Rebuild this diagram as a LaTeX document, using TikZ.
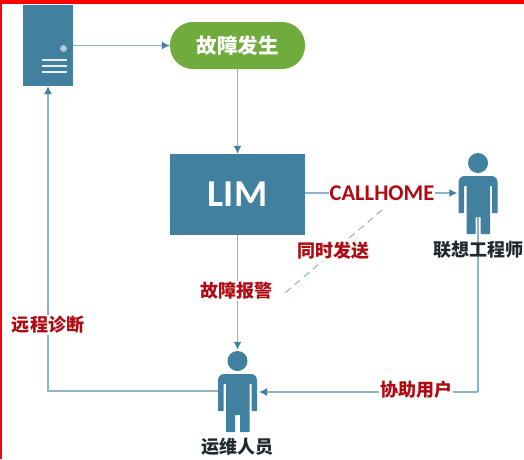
\documentclass[tikz,border=0pt]{standalone}
\usepackage{fontspec}
\setmainfont{Carlito}
\newfontfamily\cjk{Noto Sans CJK SC}
\usetikzlibrary{arrows.meta}
\definecolor{steel}{HTML}{41809F}
\definecolor{wire}{HTML}{8FB3C8}
\definecolor{leaf}{HTML}{70AB3E}
\definecolor{alert}{HTML}{B00A12}
\definecolor{ink}{HTML}{1F2A30}
\tikzset{
  x=1pt,y=-1pt,
  block/.style={fill=steel,draw=none,inner sep=0pt},
  conn/.style={draw=wire,line width=1.4pt,-{Latex[length=8pt,width=8pt,color=steel]}},
  plainconn/.style={draw=wire,line width=1.4pt},
  dashconn/.style={draw=wire,line width=1pt,dash pattern=on 7pt off 5pt},
  redlabel/.style={text=alert,font=\cjk\bfseries\fontsize{18}{20}\selectfont,inner sep=1pt},
  darklabel/.style={text=ink,font=\cjk\bfseries\fontsize{18}{20}\selectfont,inner sep=0pt},
  personslot/.style={minimum width=39pt,minimum height=59pt,inner sep=0pt,draw=none},
  pics/person/.style={code={
    \fill[steel] (0,-13) circle (10);
    \fill[steel] (-19.5,37) -- (-19.5,6) arc[start angle=180,end angle=90,radius=6pt] -- (13.5,0) arc[start angle=90,end angle=0,radius=6pt] -- (19.5,37) -- (14,37) -- (14,10) -- (12,10) -- (12,58) -- (2.5,58) -- (2.5,41) -- (-2.5,41) -- (-2.5,58) -- (-11.5,58) -- (-11.5,10) -- (-14,10) -- (-14,37) -- cycle;
  }}
}
\begin{document}
\begin{tikzpicture}
\useasboundingbox (0,0) rectangle (524,459);
\fill[white] (0,0) rectangle (524,459);
\fill[red] (0,0) rectangle (524,4);
\fill[red] (0,0) rectangle (2,459);

\node[block,minimum width=50pt,minimum height=81pt] (server) at (48,45.5) {};
\fill[white!60!steel] (63.5,48.5) circle (3.4);
\foreach \yy in {59,65,71}{\fill[white!88!steel] (42,\yy) rectangle (67,\yy+1.8);}
\node[fill=leaf,rounded corners=23pt,minimum width=135pt,minimum height=47pt,inner sep=0pt,text=white,font=\cjk\bfseries\fontsize{20.5}{22}\selectfont] (fault) at (237.5,45.5) {故障发生};
\node[block,minimum width=135pt,minimum height=81pt,text=white,font=\bfseries\fontsize{38}{40}\selectfont] (lim) at (237.5,194.5) {LIM};
\node[personslot] (eng) at (478,205.5) {};
\path (478,176) pic {person};
\node[personslot] (ops) at (237.5,403.5) {};
\path (237.5,374) pic {person};

\coordinate (corner1) at (478,392);
\coordinate (corner2) at (48,391);
\coordinate (opsin) at (259,392);
\coordinate (opsout) at (218,391);
\coordinate (dashA) at (382,210);
\coordinate (dashB) at (285,293);
\coordinate (engbottom) at (478,217);

\draw[conn] (server.east |- fault.west) -- (fault.west);
\draw[conn] (fault.south) -- (lim.north);
\draw[conn] (lim.south) -- ([yshift=24pt]ops.north);
\draw[conn] (lim.east |- 0,193) -- ([xshift=-1pt]eng.west |- 0,193);
\draw[plainconn] (engbottom) -- (corner1);
\draw[conn] (corner1) -- (opsin);
\draw[conn] (opsout) -- (corner2) -- (server.south);
\draw[dashconn] (dashA) -- (dashB);

\node[fill=white,text=alert,font=\bfseries\fontsize{22.5}{24}\selectfont,inner sep=1pt] (callhome) at (382,193) {CALLHOME};
\node[redlabel,fill=white] (l1) at (333,251) {同时发送};
\node[redlabel,fill=white] (l2) at (236,291) {故障报警};
\node[redlabel,fill=white] (l3) at (48,325) {远程诊断};
\node[redlabel,fill=white] (l4) at (416,390) {协助用户};
\node[darklabel] (l5) at (478,250) {联想工程师};
\node[darklabel] (l6) at (237.5,447) {运维人员};
\end{tikzpicture}
\end{document}
